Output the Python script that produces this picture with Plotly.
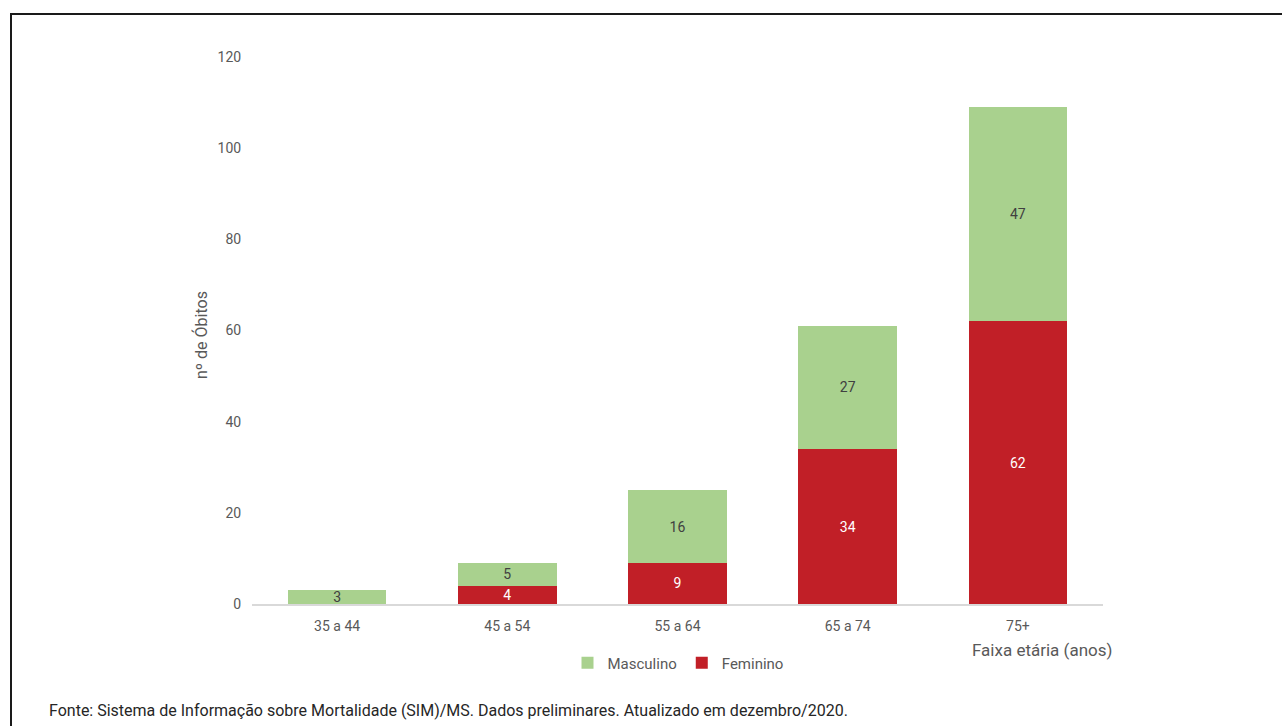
import plotly.graph_objects as go

# Deaths by age group and sex
faixas = ["35 a 44", "45 a 54", "55 a 64", "65 a 74", "75+"]
feminino = [0, 4, 9, 34, 62]
masculino = [3, 5, 16, 27, 47]
y_ticks = [0, 20, 40, 60, 80, 100, 120]

VERDE = "#A9D18E"
VERMELHO = "#C11F27"
CINZA = "#595959"
FONTE = "Roboto"

# plot area in pixels (width 1282, height 726)
L, R, T, B = 252, 1103, 57, 604
W, H = 1282, 726


def px_x(p):
    return (p - L) / (R - L)


def px_y(p):
    return (B - p) / (B - T)


fig = go.Figure()
fig.add_trace(go.Bar(
    x=faixas, y=feminino, name="Feminino",
    marker=dict(color=VERMELHO, line=dict(width=0)),
    text=[str(v) if v else "" for v in feminino],
    textposition="inside", insidetextanchor="middle", textangle=0,
    textfont=dict(color="white", size=14, family=FONTE),
    legendrank=2,
))
fig.add_trace(go.Bar(
    x=faixas, y=masculino, name="Masculino",
    marker=dict(color=VERDE, line=dict(width=0)),
    text=[str(v) if v else "" for v in masculino],
    textposition="inside", insidetextanchor="middle", textangle=0,
    textfont=dict(color="#404040", size=14, family=FONTE),
    legendrank=1,
))

fig.update_layout(
    barmode="stack",
    bargap=0.42,
    width=W, height=H,
    margin=dict(l=L, r=W - R, t=T, b=H - B, pad=0),
    paper_bgcolor="white",
    plot_bgcolor="white",
    font=dict(family=FONTE, color=CINZA, size=14),
    uniformtext=dict(minsize=14, mode="show"),
    showlegend=True,
    legend=dict(
        orientation="h", x=px_x(678), xanchor="center",
        y=px_y(663), yanchor="middle", traceorder="normal",
        font=dict(size=15, color=CINZA, family=FONTE),
        itemwidth=30, tracegroupgap=0,
    ),
    xaxis=dict(
        showgrid=False, showline=True, linecolor="#D9D9D9", linewidth=1.5,
        ticks="outside", ticklen=8, tickcolor="rgba(0,0,0,0)",
        tickfont=dict(size=14, color=CINZA),
        range=[-0.5, 4.5], fixedrange=True,
    ),
    yaxis=dict(
        range=[0, 120], tickvals=y_ticks, showgrid=False, zeroline=False,
        showline=False, ticks="outside", ticklen=7, tickcolor="rgba(0,0,0,0)",
        tickfont=dict(size=14, color=CINZA),
    ),
    annotations=[
        dict(text="n\u00ba de \u00d3bitos", x=px_x(201), y=px_y(335),
             xref="paper", yref="paper", showarrow=False, textangle=-90,
             font=dict(size=16, color=CINZA, family=FONTE),
             xanchor="center", yanchor="middle"),
        dict(text="Faixa et\u00e1ria (anos)", x=px_x(1042), y=px_y(650),
             xref="paper", yref="paper", showarrow=False,
             font=dict(size=17, color=CINZA, family=FONTE),
             xanchor="center", yanchor="middle"),
        dict(text="Fonte: Sistema de Informa\u00e7\u00e3o sobre Mortalidade (SIM)/MS. "
                  "Dados preliminares. Atualizado em dezembro/2020.",
             x=px_x(47), y=px_y(710), xref="paper", yref="paper",
             showarrow=False, xanchor="left", yanchor="middle",
             font=dict(size=16, color="#262626", family=FONTE)),
    ],
    shapes=[
        dict(type="line", xref="paper", yref="paper",
             x0=px_x(10), x1=px_x(W + 2), y0=px_y(14), y1=px_y(14),
             line=dict(color="#1A1A1A", width=2)),
        dict(type="line", xref="paper", yref="paper",
             x0=px_x(11), x1=px_x(11), y0=px_y(14), y1=px_y(H + 2),
             line=dict(color="#1A1A1A", width=2)),
    ],
)

fig.write_html("out.html")
